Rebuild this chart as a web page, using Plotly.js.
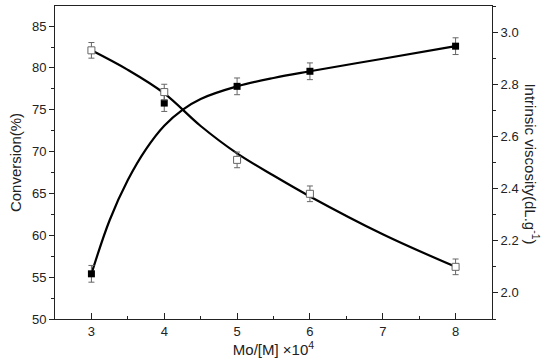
<!DOCTYPE html>
<html>
<head>
<meta charset="utf-8">
<script src="https://cdn.plot.ly/plotly-3.0.1.min.js"></script>
<style>html,body{margin:0;padding:0;background:#fff;}#chart{width:550px;height:362px;}</style>
</head>
<body>
<div id="chart"></div>
<script>
// Measured data points
const xPts = [3, 4, 5, 6, 8];
const conversion = [55.4, 75.8, 77.8, 79.6, 82.6];
const conversionErr = [1.0, 1.0, 1.0, 1.0, 1.0];
const viscosity = [2.93, 2.77, 2.51, 2.38, 2.10];
const viscosityErr = [0.03, 0.03, 0.03, 0.03, 0.03];

// Fitted curves
const convFitX = [3, 3.25, 3.5, 3.75, 4, 4.25, 4.5, 5, 5.5, 6, 7, 8];
const convFitY = [55.4, 61.8, 66.6, 70.3, 73.1, 75.0, 76.3, 77.8, 78.8, 79.6, 81.1, 82.6];
const viscFitX = [3, 3.5, 4, 4.5, 5, 5.5, 6, 7, 8];
const viscFitY = [2.93, 2.855, 2.765, 2.64, 2.535, 2.45, 2.37, 2.225, 2.10];

const xTicks = [3, 4, 5, 6, 7, 8];

const font = {family: 'Liberation Sans, Arial, sans-serif', size: 13, color: '#222'};
const titleFont = {family: font.family, size: 15, color: '#222'};

const traces = [
  {x: convFitX, y: convFitY, mode: 'lines', line: {color: '#000', width: 2.2, shape: 'spline', smoothing: 1}, yaxis: 'y', hoverinfo: 'skip'},
  {x: viscFitX, y: viscFitY, mode: 'lines', line: {color: '#000', width: 2.2, shape: 'spline', smoothing: 1}, yaxis: 'y2', hoverinfo: 'skip'},
  {x: xPts, y: conversion, mode: 'markers', yaxis: 'y',
   marker: {symbol: 'square', size: 7, color: '#000'},
   error_y: {type: 'data', array: conversionErr, visible: true, color: '#666', thickness: 1, width: 3}},
  {x: xPts, y: viscosity, mode: 'markers', yaxis: 'y2',
   marker: {symbol: 'square', size: 7, color: '#fff', line: {color: '#666', width: 1}},
   error_y: {type: 'data', array: viscosityErr, visible: true, color: '#666', thickness: 1, width: 3}}
];

const layout = {
  width: 550, height: 362,
  margin: {l: 55, r: 58, t: 6, b: 43},
  paper_bgcolor: '#fff', plot_bgcolor: '#fff',
  showlegend: false,
  font: font,
  xaxis: {
    range: [2.5, 8.5], tickvals: xTicks, ticktext: xTicks.map(String),
    showline: true, linecolor: '#222', linewidth: 1, mirror: true,
    ticks: 'inside', ticklen: 6, tickcolor: '#222',
    minor: {dtick: 0.5, tick0: 2.5, ticks: 'inside', ticklen: 3, tickcolor: '#222'},
    showgrid: false, zeroline: false,
    title: {text: 'Mo/[M] ×10<sup>4</sup>', font: titleFont, standoff: 4},
    tickfont: font
  },
  yaxis: {
    range: [50, 87.4], tick0: 50, dtick: 5,
    showline: true, linecolor: '#222', linewidth: 1,
    ticks: 'outside', ticklen: 5, tickcolor: '#222',
    minor: {dtick: 2.5, ticks: 'outside', ticklen: 3, tickcolor: '#222'},
    showgrid: false, zeroline: false,
    title: {text: 'Conversion(%)', font: titleFont, standoff: 6},
    tickfont: font
  },
  yaxis2: {
    range: [1.90, 3.10], tick0: 2.0, dtick: 0.2, tickformat: '.1f',
    overlaying: 'y', side: 'right',
    showline: true, linecolor: '#222', linewidth: 1,
    ticks: 'outside', ticklen: 5, tickcolor: '#222',
    minor: {dtick: 0.1, ticks: 'outside', ticklen: 3, tickcolor: '#222'},
    showgrid: false, zeroline: false,
    tickfont: font
  },
  annotations: [{
    text: 'Intrinsic viscosity(dL.g<sup>-1</sup>)', textangle: 90,
    xref: 'paper', yref: 'paper', x: 1.093, y: 0.495, showarrow: false,
    xanchor: 'center', yanchor: 'middle',
    font: titleFont
  }]
};

Plotly.newPlot('chart', traces, layout, {displayModeBar: false, staticPlot: true});
</script>
</body>
</html>
